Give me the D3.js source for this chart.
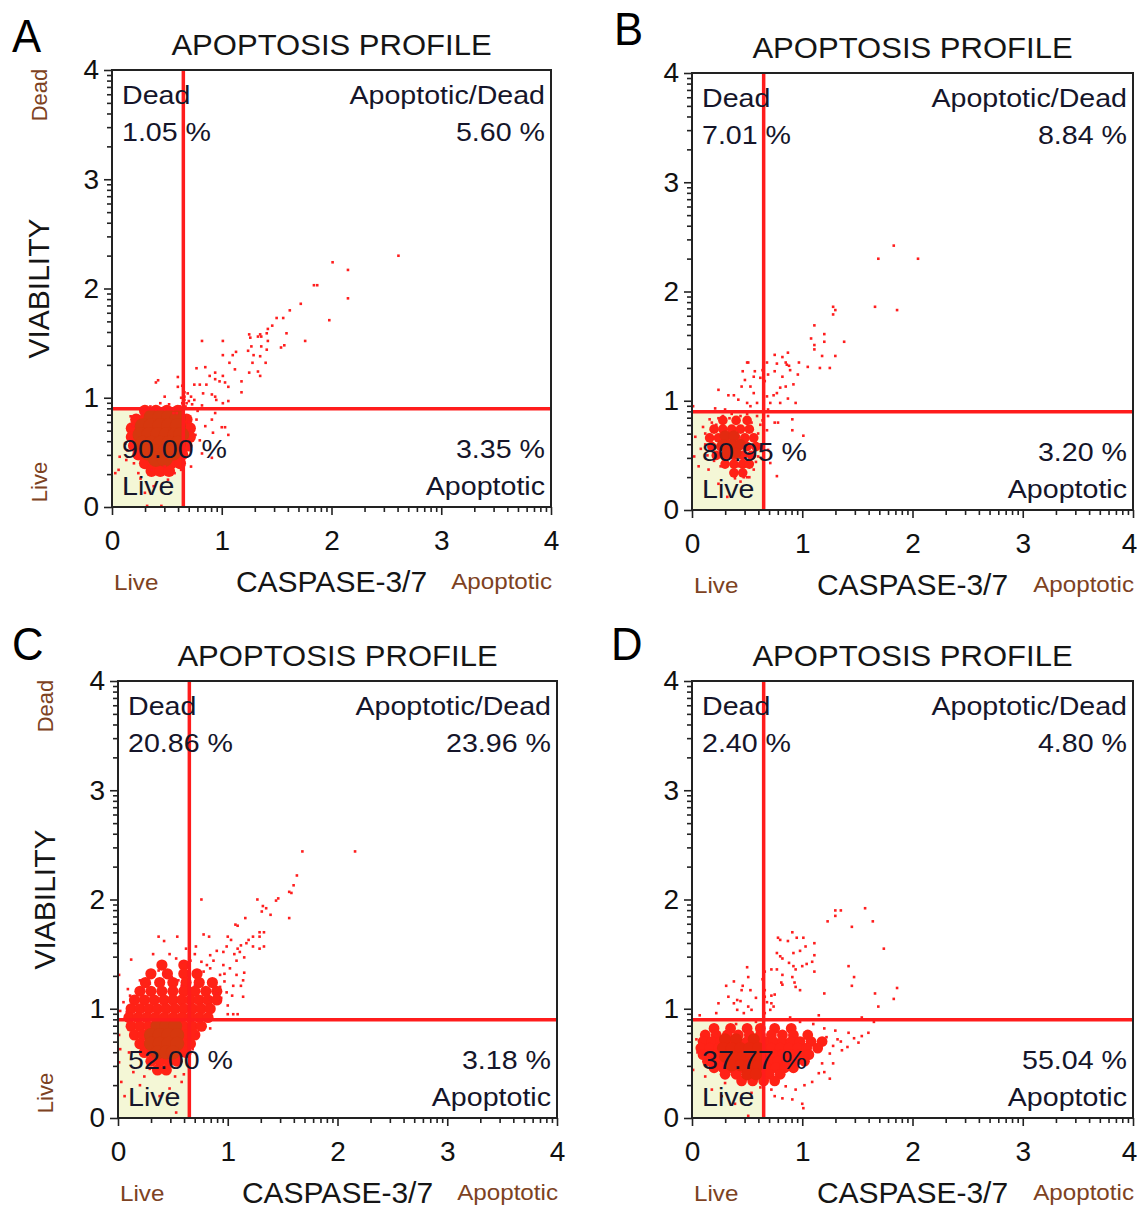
<!DOCTYPE html>
<html><head><meta charset="utf-8">
<script src="https://cdn.jsdelivr.net/npm/d3@7"></script>
<style>
body{margin:0;background:#fff;}
svg{display:block;}
text{font-family:"Liberation Sans",Arial,sans-serif;}
</style></head><body>
<svg id="c" width="1137" height="1209"></svg>
<script>
// ---------------- data ----------------
const panelLetters = ["A","B","C","D"];
const titleText = "APOPTOSIS PROFILE";
const xAxisTitle = "CASPASE-3/7";
const yAxisTitle = "VIABILITY";
const majorTicks = [0,1,2,3,4];
const minorTickOffsets = [0.301,0.477,0.602,0.699,0.778,0.845,0.903,0.954];
const gateCaspase = 0.65;
const gateViability = 0.9;
const quadNames = ["Dead","Apoptotic/Dead","Live","Apoptotic"];
const deadPct   = [1.05, 7.01, 20.86, 2.40];
const apDeadPct = [5.60, 8.84, 23.96, 4.80];
const livePct   = [90.00, 80.95, 52.00, 37.77];
const apopPct   = [3.35, 3.20, 3.18, 55.04];

const dotsA = [[2.61,2.30],[2.01,2.24],[2.15,2.17],[1.84,2.03],[1.87,2.03],[2.15,1.91],[1.98,1.71],[1.76,1.52],[1.72,1.86],[1.62,1.80],[1.56,1.73],[1.50,1.73],[1.46,1.66],[1.59,1.59],[1.57,1.48],[1.54,1.46],[1.42,1.63],[1.41,1.59],[1.35,1.58],[1.33,1.56],[1.36,1.56],[1.25,1.58],[1.26,1.55],[1.42,1.52],[1.41,1.44],[1.36,1.47],[1.27,1.47],[1.24,1.43],[1.29,1.39],[1.35,1.38],[1.40,1.32],[1.28,1.32],[1.25,1.23],[1.33,1.24],[1.35,1.20],[1.13,1.42],[1.10,1.39],[1.07,1.32],[1.01,1.52],[1.01,1.39],[0.82,1.52],[0.85,1.28],[0.77,1.27],[1.12,1.26],[1.01,1.20],[0.98,1.15],[1.03,1.14],[1.06,1.10],[0.94,1.23],[0.89,1.20],[0.94,1.17],[0.86,1.12],[0.80,1.12],[0.75,1.12],[1.18,1.15],[1.18,1.05],[0.83,1.04],[0.91,1.03],[0.94,1.01],[0.95,0.98],[1.01,0.95],[1.06,0.97],[0.72,1.01],[0.75,0.98],[0.69,1.04],[0.60,1.19],[0.42,1.16],[0.40,1.14],[0.60,1.10],[0.64,1.11],[0.48,1.01],[0.44,0.95],[0.66,1.01],[0.68,0.95],[0.73,0.94],[0.82,0.93],[0.94,0.86],[0.91,0.80],[1.00,0.73],[1.03,0.73],[1.06,0.66],[0.92,0.68],[0.85,0.74],[0.77,0.80],[0.74,0.74],[0.80,0.61],[0.82,0.49],[0.91,0.45],[0.72,0.37],[0.71,0.52],[0.69,0.61],[0.07,0.46],[0.06,0.34],[0.12,0.58],[0.19,0.74],[0.17,0.83],[0.27,0.86],[0.32,0.01],[0.45,0.01],[0.30,0.13],[0.38,0.19],[0.51,0.25],[0.57,0.31],[0.63,0.34],[0.24,0.31],[0.36,0.34],[0.48,0.37],[0.56,0.86],[0.59,0.86],[0.13,0.43],[0.03,0.31],[0.70,0.78],[0.72,0.70],[0.70,0.55],[0.66,0.45],[0.15,0.62],[0.14,0.52],[0.20,0.40],[0.26,0.26],[0.62,0.92],[0.52,0.94],[0.35,0.92],[0.66,0.98],[0.78,0.88],[0.76,0.66],[0.64,0.95],[0.66,1.05],[0.63,1.00],[0.70,0.97],[0.67,0.92],[0.65,1.15]];
const haloA = [[0.30,0.88],[0.40,0.88],[0.50,0.88],[0.60,0.88],[0.22,0.80],[0.30,0.80],[0.38,0.80],[0.46,0.80],[0.54,0.80],[0.62,0.80],[0.68,0.80],[0.18,0.72],[0.26,0.72],[0.34,0.72],[0.42,0.72],[0.50,0.72],[0.58,0.72],[0.66,0.72],[0.71,0.72],[0.18,0.64],[0.26,0.64],[0.34,0.64],[0.42,0.64],[0.50,0.64],[0.58,0.64],[0.66,0.64],[0.71,0.64],[0.20,0.56],[0.28,0.56],[0.36,0.56],[0.44,0.56],[0.52,0.56],[0.60,0.56],[0.68,0.56],[0.24,0.48],[0.32,0.48],[0.40,0.48],[0.48,0.48],[0.56,0.48],[0.64,0.48],[0.30,0.40],[0.38,0.40],[0.46,0.40],[0.54,0.40],[0.62,0.40],[0.36,0.33],[0.44,0.33],[0.52,0.33]];
const coreA = [[0.36,0.82],[0.44,0.82],[0.52,0.82],[0.60,0.82],[0.28,0.74],[0.36,0.74],[0.44,0.74],[0.52,0.74],[0.60,0.74],[0.26,0.66],[0.34,0.66],[0.42,0.66],[0.50,0.66],[0.58,0.66],[0.63,0.66],[0.28,0.58],[0.36,0.58],[0.44,0.58],[0.52,0.58],[0.60,0.58],[0.32,0.50],[0.40,0.50],[0.48,0.50],[0.56,0.50],[0.40,0.44],[0.48,0.44]];

const dotsB = [[1.83,2.42],[1.69,2.30],[2.05,2.30],[1.66,1.86],[1.86,1.83],[1.28,1.86],[1.30,1.83],[1.28,1.79],[1.11,1.69],[1.20,1.61],[1.38,1.54],[1.08,1.57],[1.11,1.51],[1.11,1.47],[1.20,1.54],[1.18,1.41],[1.30,1.41],[1.16,1.30],[1.25,1.30],[1.05,1.31],[0.97,1.35],[0.96,1.24],[0.87,1.44],[0.82,1.40],[0.75,1.42],[0.85,1.35],[0.86,1.33],[0.88,1.32],[0.89,1.28],[0.77,1.34],[0.68,1.35],[0.75,1.27],[0.69,1.24],[0.82,1.22],[0.66,1.18],[0.92,1.15],[0.85,1.13],[0.80,1.12],[0.74,1.05],[0.77,1.07],[0.80,0.98],[0.94,0.98],[0.87,1.02],[0.71,0.98],[0.68,1.04],[0.69,0.92],[0.51,1.35],[0.50,1.35],[0.57,1.27],[0.46,1.27],[0.56,1.22],[0.48,1.19],[0.53,1.13],[0.56,1.07],[0.45,1.13],[0.62,1.21],[0.64,1.28],[0.38,1.05],[0.33,1.05],[0.24,1.10],[0.42,1.01],[0.50,0.98],[0.53,0.95],[0.59,0.98],[0.30,0.92],[0.21,0.93],[0.01,0.95],[0.75,0.80],[0.78,0.80],[0.91,0.83],[0.91,0.73],[1.01,0.68],[0.68,0.73],[0.69,0.86],[0.77,0.31],[0.69,0.55],[0.71,0.43],[0.03,0.67],[0.06,0.40],[0.02,0.49],[0.10,0.76],[0.16,0.83],[0.24,0.84],[0.59,0.86],[0.54,0.80],[0.48,0.34],[0.39,0.29],[0.32,0.12],[0.56,0.37],[0.15,0.37],[0.24,0.24],[0.60,0.49],[0.62,0.60],[0.12,0.60],[0.14,0.50],[0.20,0.45],[0.60,0.70],[0.62,0.78],[0.44,0.86],[0.36,0.88],[0.28,0.86],[0.18,0.80],[0.52,0.30],[0.44,0.26],[0.40,0.36],[0.47,0.30],[0.42,0.40],[0.45,0.36],[0.48,0.33],[0.50,0.30],[0.12,0.70],[0.22,0.78],[0.26,0.40],[0.58,0.44],[0.64,0.82],[0.50,0.88],[0.34,0.84],[0.08,0.56],[0.16,0.68]];
const haloB = [[0.28,0.82],[0.40,0.82],[0.50,0.82],[0.20,0.74],[0.28,0.74],[0.36,0.74],[0.44,0.74],[0.52,0.74],[0.16,0.66],[0.24,0.66],[0.32,0.66],[0.40,0.66],[0.48,0.66],[0.56,0.66],[0.18,0.58],[0.26,0.58],[0.34,0.58],[0.42,0.58],[0.50,0.58],[0.58,0.58],[0.22,0.50],[0.30,0.50],[0.38,0.50],[0.46,0.50],[0.54,0.50],[0.30,0.42],[0.38,0.42],[0.46,0.42],[0.52,0.42],[0.38,0.34],[0.46,0.34]];
const coreB = [[0.30,0.68],[0.38,0.68],[0.28,0.60],[0.36,0.60],[0.44,0.60],[0.32,0.52],[0.40,0.52]];

const dotsC = [[1.68,2.44],[2.16,2.44],[1.63,2.22],[1.60,2.13],[1.56,2.07],[1.58,2.06],[1.56,1.83],[1.44,1.99],[1.46,2.01],[1.27,2.00],[1.32,1.94],[1.35,1.92],[1.31,1.89],[1.39,1.86],[1.16,1.83],[1.07,1.77],[1.09,1.76],[0.76,2.00],[1.29,1.70],[1.33,1.70],[1.29,1.66],[1.23,1.66],[1.19,1.63],[1.17,1.60],[1.12,1.58],[1.33,1.57],[1.29,1.55],[1.23,1.57],[1.00,1.66],[1.03,1.63],[0.99,1.57],[1.09,1.55],[0.78,1.68],[0.83,1.66],[0.96,1.52],[1.06,1.50],[1.11,1.52],[1.15,1.47],[1.08,1.44],[0.90,1.53],[0.84,1.49],[0.87,1.44],[0.71,1.57],[0.65,1.48],[0.64,1.40],[0.96,1.40],[1.02,1.37],[0.97,1.32],[1.08,1.31],[1.15,1.33],[0.93,1.31],[0.84,1.37],[0.81,1.40],[0.76,1.43],[1.14,1.26],[1.12,1.21],[1.14,1.11],[1.05,1.21],[0.97,1.25],[0.93,1.20],[0.99,1.15],[1.04,1.12],[0.90,1.14],[0.84,1.09],[0.93,1.06],[1.00,1.03],[1.05,0.95],[1.09,0.95],[1.00,0.95],[0.37,1.66],[0.54,1.66],[0.42,1.62],[0.32,1.50],[0.47,1.50],[0.53,1.46],[0.59,1.43],[0.65,1.34],[0.72,1.34],[0.78,1.34],[0.12,1.45],[0.37,1.35],[0.43,1.31],[0.49,1.29],[0.38,1.26],[0.01,1.31],[0.20,1.26],[0.29,1.23],[0.23,1.18],[0.09,1.18],[0.11,1.12],[0.15,1.09],[0.05,1.06],[0.02,0.98],[0.08,0.97],[0.58,1.21],[0.70,1.21],[0.55,1.26],[0.01,0.76],[0.02,0.63],[0.01,0.51],[0.03,0.33],[0.06,0.20],[0.14,0.42],[0.20,0.30],[0.53,0.05],[0.38,0.20],[0.47,0.27],[0.58,0.33],[0.29,0.45],[0.84,0.82],[0.75,0.88],[0.72,0.76],[0.68,0.63],[0.60,0.40],[0.52,0.38],[0.24,0.38],[0.10,0.60],[0.90,0.90],[0.94,1.10],[0.66,1.44],[0.70,1.50],[0.62,1.55]];
const haloC = [[0.40,1.40],[0.60,1.40],[0.30,1.32],[0.45,1.32],[0.60,1.32],[0.72,1.32],[0.25,1.24],[0.38,1.24],[0.50,1.24],[0.62,1.24],[0.74,1.24],[0.86,1.24],[0.20,1.16],[0.30,1.16],[0.40,1.16],[0.50,1.16],[0.60,1.16],[0.70,1.16],[0.80,1.16],[0.90,1.16],[0.15,1.08],[0.24,1.08],[0.33,1.08],[0.42,1.08],[0.50,1.08],[0.58,1.08],[0.66,1.08],[0.74,1.08],[0.82,1.08],[0.90,1.08],[0.12,1.00],[0.20,1.00],[0.28,1.00],[0.36,1.00],[0.44,1.00],[0.52,1.00],[0.60,1.00],[0.68,1.00],[0.76,1.00],[0.84,1.00],[0.10,0.92],[0.18,0.92],[0.26,0.92],[0.34,0.92],[0.42,0.92],[0.50,0.92],[0.58,0.92],[0.66,0.92],[0.74,0.92],[0.82,0.92],[0.12,0.84],[0.20,0.84],[0.28,0.84],[0.36,0.84],[0.44,0.84],[0.52,0.84],[0.60,0.84],[0.68,0.84],[0.76,0.84],[0.15,0.76],[0.23,0.76],[0.31,0.76],[0.39,0.76],[0.47,0.76],[0.55,0.76],[0.63,0.76],[0.70,0.76],[0.20,0.68],[0.28,0.68],[0.36,0.68],[0.44,0.68],[0.52,0.68],[0.60,0.68],[0.66,0.68],[0.24,0.60],[0.32,0.60],[0.40,0.60],[0.48,0.60],[0.56,0.60],[0.62,0.60],[0.30,0.52],[0.38,0.52],[0.46,0.52],[0.54,0.52],[0.36,0.44],[0.44,0.44]];
const coreC = [[0.36,0.84],[0.44,0.84],[0.52,0.84],[0.30,0.76],[0.38,0.76],[0.46,0.76],[0.54,0.76],[0.30,0.68],[0.38,0.68],[0.46,0.68],[0.54,0.68],[0.36,0.60],[0.44,0.60],[0.50,0.60]];

const dotsD = [[1.57,1.92],[1.35,1.90],[1.30,1.90],[1.30,1.85],[1.23,1.80],[1.45,1.75],[1.64,1.80],[1.74,1.55],[0.91,1.70],[0.95,1.65],[1.01,1.65],[0.87,1.62],[0.78,1.65],[0.80,1.63],[1.11,1.60],[1.03,1.57],[0.98,1.53],[0.92,1.51],[1.11,1.49],[1.09,1.43],[1.11,1.34],[0.77,1.51],[0.80,1.48],[0.82,1.46],[0.88,1.42],[0.92,1.39],[0.94,1.36],[1.00,1.39],[1.04,1.41],[0.72,1.36],[0.77,1.36],[0.82,1.31],[0.91,1.29],[0.93,1.24],[0.94,1.20],[0.82,1.22],[0.81,1.24],[0.98,1.17],[1.20,1.14],[1.42,1.39],[1.47,1.29],[1.45,1.21],[1.66,1.14],[1.69,1.02],[1.83,1.09],[1.86,1.19],[0.66,1.34],[0.64,1.27],[0.66,1.17],[0.66,1.11],[0.68,1.06],[0.72,1.12],[0.72,1.05],[0.75,1.13],[0.50,1.38],[0.51,1.29],[0.46,1.21],[0.45,1.17],[0.31,1.21],[0.38,1.25],[0.53,1.17],[0.58,1.10],[0.33,1.11],[0.41,1.08],[0.44,1.07],[0.38,1.05],[0.51,1.02],[0.54,0.99],[0.22,0.96],[0.41,0.99],[0.47,0.96],[0.07,0.94],[0.24,1.05],[0.74,1.02],[0.71,0.99],[0.66,0.96],[0.89,0.92],[1.15,0.94],[1.54,0.92],[1.65,0.88],[1.60,0.78],[1.54,0.75],[1.47,0.73],[1.51,0.69],[1.41,0.65],[1.36,0.62],[1.42,0.78],[1.32,0.72],[1.25,0.59],[1.18,0.50],[1.25,0.36],[1.00,0.13],[1.01,0.09],[0.91,0.17],[0.75,0.20],[0.82,0.18],[0.51,0.02],[0.72,0.26],[0.85,0.29],[0.94,0.26],[1.09,0.33],[1.15,0.41],[0.01,0.44],[0.12,0.38],[0.18,0.26],[0.27,0.20],[0.39,0.13],[0.54,0.23],[0.30,0.32],[1.30,0.80],[1.35,0.70],[1.28,0.66],[1.20,0.82],[1.10,0.86],[1.22,0.74],[1.28,0.50],[1.20,0.42],[1.02,0.30],[0.62,0.28],[0.98,0.88],[0.58,0.88],[0.40,0.86],[0.05,0.60],[0.04,0.72]];
const haloD = [[0.20,0.82],[0.35,0.82],[0.50,0.82],[0.62,0.82],[0.75,0.82],[0.90,0.82],[0.12,0.76],[0.22,0.76],[0.32,0.76],[0.42,0.76],[0.52,0.76],[0.62,0.76],[0.72,0.76],[0.82,0.76],[0.92,0.76],[1.05,0.76],[0.10,0.70],[0.18,0.70],[0.26,0.70],[0.34,0.70],[0.42,0.70],[0.50,0.70],[0.58,0.70],[0.66,0.70],[0.74,0.70],[0.82,0.70],[0.90,0.70],[0.98,0.70],[1.08,0.70],[1.18,0.70],[0.08,0.64],[0.16,0.64],[0.24,0.64],[0.32,0.64],[0.40,0.64],[0.48,0.64],[0.56,0.64],[0.64,0.64],[0.72,0.64],[0.80,0.64],[0.88,0.64],[0.96,0.64],[1.04,0.64],[1.14,0.64],[0.10,0.58],[0.18,0.58],[0.26,0.58],[0.34,0.58],[0.42,0.58],[0.50,0.58],[0.58,0.58],[0.66,0.58],[0.74,0.58],[0.82,0.58],[0.90,0.58],[0.98,0.58],[1.06,0.58],[0.14,0.52],[0.22,0.52],[0.30,0.52],[0.38,0.52],[0.46,0.52],[0.54,0.52],[0.62,0.52],[0.70,0.52],[0.78,0.52],[0.86,0.52],[0.94,0.52],[1.02,0.52],[0.20,0.46],[0.28,0.46],[0.36,0.46],[0.44,0.46],[0.52,0.46],[0.60,0.46],[0.68,0.46],[0.76,0.46],[0.84,0.46],[0.92,0.46],[0.30,0.40],[0.40,0.40],[0.50,0.40],[0.60,0.40],[0.70,0.40],[0.80,0.40],[0.45,0.34],[0.55,0.34],[0.65,0.34],[0.75,0.34]];
const coreD = [[0.30,0.72],[0.40,0.72],[0.56,0.72],[0.28,0.64],[0.36,0.64],[0.44,0.64],[0.52,0.64],[0.60,0.64],[0.30,0.56],[0.38,0.56],[0.46,0.56],[0.54,0.56],[0.62,0.56],[0.36,0.48],[0.44,0.48],[0.52,0.48],[0.60,0.48],[0.50,0.40],[0.58,0.40]];

// ---------------- layout / style (not data) ----------------
const layouts = [
  {left:112, right:551, top:70, bottom:507, lx:12, ly:52, yTitle:true, haloR:6, coreR:8, coreCol:"#d6380e"},
  {left:692, right:1133, top:73, bottom:510, lx:614, ly:45, yTitle:false, haloR:4.8, coreR:5.5, coreCol:"#e42a10"},
  {left:118, right:557, top:681, bottom:1118, lx:12, ly:660, yTitle:true, haloR:5.6, coreR:7, coreCol:"#d6380e"},
  {left:692, right:1133, top:681, bottom:1118, lx:611, ly:660, yTitle:false, haloR:5.4, coreR:6, coreCol:"#e8260c"}
];
const panelData = [
  {dots:dotsA, halo:haloA, core:coreA},
  {dots:dotsB, halo:haloB, core:coreB},
  {dots:dotsC, halo:haloC, core:coreC},
  {dots:dotsD, halo:haloD, core:coreD}
];

const svg = d3.select("#c");
const fmt = d3.format(".2f");
const TXT = "#15152a", BROWN = "#7d4222", RED = "#ff1e1e";

function txt(g, s, x, y, size, anchor, fill, sx, rot) {
  return g.append("text")
    .attr("transform", `translate(${x},${y}) rotate(${rot||0}) scale(${sx||1},1)`)
    .attr("text-anchor", anchor).attr("font-size", size).attr("fill", fill).text(s);
}

const minorTicks = [];
[0,1,2,3].forEach(d => minorTickOffsets.forEach(o => minorTicks.push(d + o)));

layouts.forEach((L, i) => {
  const D = panelData[i];
  const g = svg.append("g");
  const x = d3.scaleLinear().domain([0,4]).range([L.left, L.right]);
  const y = d3.scaleLinear().domain([0,4]).range([L.bottom, L.top]);

  const cid = "clip" + i;
  g.append("clipPath").attr("id", cid).append("rect")
    .attr("x", L.left).attr("y", L.top).attr("width", L.right - L.left).attr("height", L.bottom - L.top);

  // Live quadrant shading
  g.append("rect").attr("x", x(0)).attr("y", y(gateViability))
    .attr("width", x(gateCaspase) - x(0)).attr("height", y(0) - y(gateViability))
    .attr("fill", "#f4f7d6");

  const pts = g.append("g").attr("clip-path", `url(#${cid})`);
  pts.selectAll("circle.h").data(D.halo).join("circle").attr("class","h")
    .attr("cx", d => x(d[0])).attr("cy", d => y(d[1])).attr("r", L.haloR).attr("fill", "#ff2216");
  pts.selectAll("circle.c").data(D.core).join("circle").attr("class","c")
    .attr("cx", d => x(d[0])).attr("cy", d => y(d[1])).attr("r", L.coreR).attr("fill", L.coreCol);
  pts.selectAll("rect.d").data(D.dots).join("rect").attr("class","d")
    .attr("x", d => x(d[0]) - 1.3).attr("y", d => y(d[1]) - 1.3).attr("width", 2.6).attr("height", 2.6)
    .attr("fill", RED);

  // gates
  g.append("line").attr("x1", x(gateCaspase)).attr("x2", x(gateCaspase)).attr("y1", y(0)).attr("y2", y(4))
    .attr("stroke", "#ff1c1c").attr("stroke-width", 3.5);
  g.append("line").attr("x1", x(0)).attr("x2", x(4)).attr("y1", y(gateViability)).attr("y2", y(gateViability))
    .attr("stroke", "#ff1c1c").attr("stroke-width", 3.5);

  // box
  g.append("rect").attr("x", L.left).attr("y", L.top).attr("width", L.right - L.left).attr("height", L.bottom - L.top)
    .attr("fill", "none").attr("stroke", "#222").attr("stroke-width", 2);

  // axes
  const styleAxis = sel => { sel.select(".domain").remove(); sel.selectAll("line").attr("stroke","#222").attr("stroke-width",1.6); sel.selectAll("text").attr("fill","#111").attr("font-size",28).attr("font-family","'Liberation Sans',Arial,sans-serif"); };
  g.append("g").attr("transform", `translate(${L.left},0)`)
    .call(d3.axisLeft(y).tickValues(majorTicks).tickSize(8).tickPadding(5).tickFormat(d3.format("d"))).call(styleAxis);
  g.append("g").attr("transform", `translate(${L.left},0)`)
    .call(d3.axisLeft(y).tickValues(minorTicks).tickSize(5).tickFormat("")).call(styleAxis);
  const xa = g.append("g").attr("transform", `translate(0,${L.bottom})`)
    .call(d3.axisBottom(x).tickValues(majorTicks).tickSize(8).tickPadding(15).tickFormat(d3.format("d"))).call(styleAxis);
  // keep the last label inside the window for the right-hand panels
  if (L.right > 1100) xa.selectAll("text").filter(d => d === 4).attr("dx", -4);
  g.append("g").attr("transform", `translate(0,${L.bottom})`)
    .call(d3.axisBottom(x).tickValues(minorTicks).tickSize(5).tickFormat("")).call(styleAxis);

  // quadrant labels
  const qx0 = L.left + 10, qx1 = L.right - 6;
  txt(g, quadNames[0], qx0, L.top + 34, 26, "start", TXT, 1.1);
  txt(g, fmt(deadPct[i]) + " %", qx0, L.top + 71, 26, "start", TXT, 1.1);
  txt(g, quadNames[1], qx1, L.top + 34, 26, "end", TXT, 1.1);
  txt(g, fmt(apDeadPct[i]) + " %", qx1, L.top + 71, 26, "end", TXT, 1.1);
  txt(g, fmt(livePct[i]) + " %", qx0, L.bottom - 49, 26, "start", TXT, 1.1);
  txt(g, quadNames[2], qx0, L.bottom - 12, 26, "start", TXT, 1.1);
  txt(g, fmt(apopPct[i]) + " %", qx1, L.bottom - 49, 26, "end", TXT, 1.1);
  txt(g, quadNames[3], qx1, L.bottom - 12, 26, "end", TXT, 1.1);

  // title
  const cx = (L.left + L.right) / 2;
  txt(g, titleText, cx, L.top - 15, 30, "middle", "#151515", 1.035);

  // x axis labels
  txt(g, xAxisTitle, cx, L.bottom + 85, 30, "middle", "#151515", 1.0);
  txt(g, quadNames[2], L.left + 2, L.bottom + 83, 22, "start", BROWN, 1.1);
  txt(g, quadNames[3], Math.min(L.right + 1, 1135), L.bottom + 82, 22, "end", BROWN, 1.1);

  // y axis labels
  if (L.yTitle) {
    const cy = (L.top + L.bottom) / 2;
    txt(g, yAxisTitle, L.left - 63, cy, 30, "middle", "#151515", 1.0, -90);
    txt(g, quadNames[0], L.left - 65, L.top + 25, 22, "middle", BROWN, 1.0, -90);
    txt(g, quadNames[2], L.left - 65, L.bottom - 25, 22, "middle", BROWN, 1.0, -90);
  }

  // panel letter
  txt(svg, panelLetters[i], L.lx, L.ly, 46, "start", "#000", 0.95);
});
</script>
</body></html>
